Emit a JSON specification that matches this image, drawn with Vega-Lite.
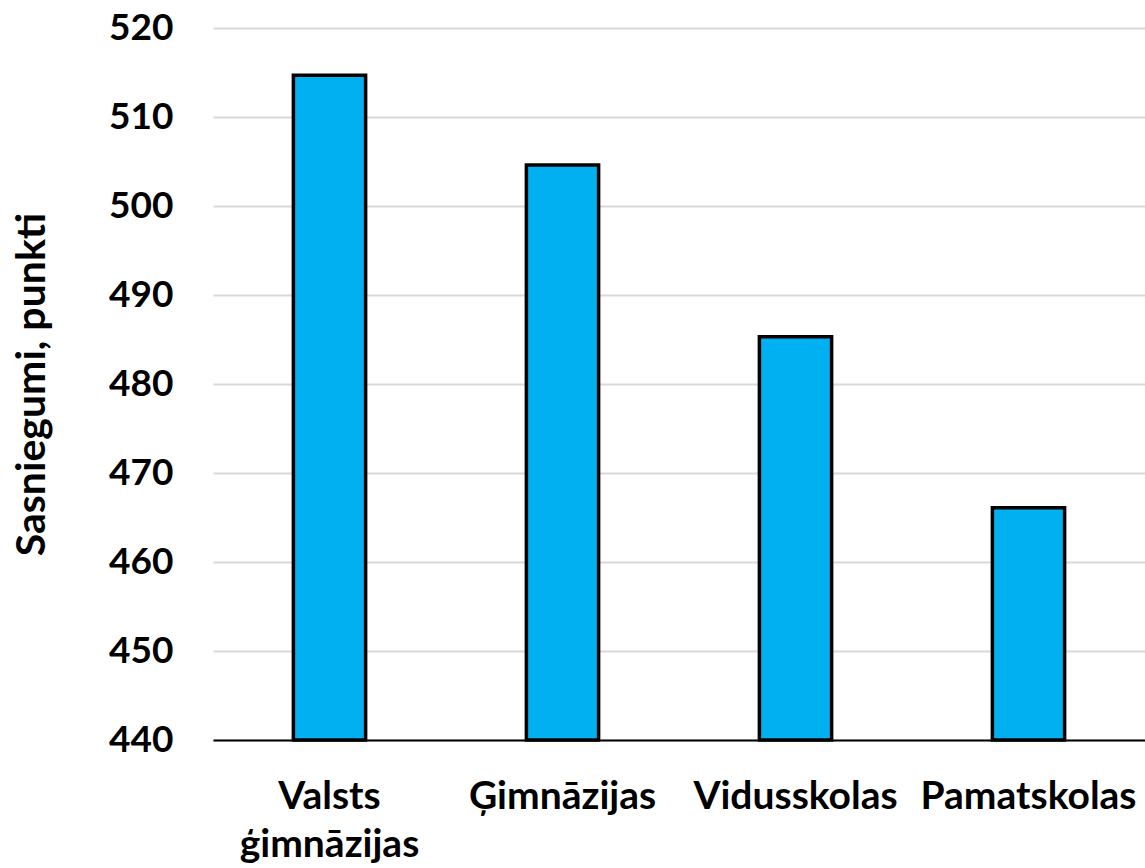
{
  "$schema": "https://vega.github.io/schema/vega-lite/v6.json",
  "autosize": "none",
  "width": 932,
  "height": 712,
  "padding": {"left": 213, "top": 28, "right": 0, "bottom": 128},
  "background": "white",
  "data": {"values": [
    {"type": "Valsts ģimnāzijas", "score": 514.7},
    {"type": "Ģimnāzijas", "score": 504.6},
    {"type": "Vidusskolas", "score": 485.3},
    {"type": "Pamatskolas", "score": 466.1}
  ]},
  "config": {
    "view": {"stroke": null},
    "font": "Lato"
  },
  "mark": {"type": "bar", "fill": "#00b0f0", "stroke": "#000000", "strokeWidth": 3.5},
  "encoding": {
    "x": {
      "field": "type", "type": "nominal", "sort": null,
      "scale": {"paddingInner": 0.69, "paddingOuter": 0.345},
      "axis": {
        "title": null, "labelAngle": 0, "ticks": false,
        "domainColor": "#000000", "domainWidth": 2,
        "labelFont": "Lato", "labelFontWeight": "bold", "labelFontSize": 39, "labelColor": "#000000",
        "labelPadding": 37, "labelLineHeight": 48, "labelBaseline": "top",
        "labelLimit": 0, "labelOverlap": false, "labelBound": false,
        "labelExpr": "datum.label == 'Valsts ģimnāzijas' ? ['Valsts', 'ģimnāzijas'] : datum.label"
      }
    },
    "y": {
      "field": "score", "type": "quantitative",
      "scale": {"domain": [440, 520], "zero": false},
      "axis": {
        "title": "Sasniegumi, punkti", "values": [440, 450, 460, 470, 480, 490, 500, 510, 520],
        "domain": false, "ticks": false,
        "gridColor": "#d9d9d9", "gridWidth": 2,
        "labelFont": "Lato", "labelFontWeight": "bold", "labelFontSize": 37, "labelColor": "#000000",
        "labelPadding": 40,
        "titleFont": "Lato", "titleFontWeight": "bold", "titleFontSize": 41, "titleColor": "#000000",
        "titlePadding": 55
      }
    },
    "y2": {"datum": 440}
  }
}
